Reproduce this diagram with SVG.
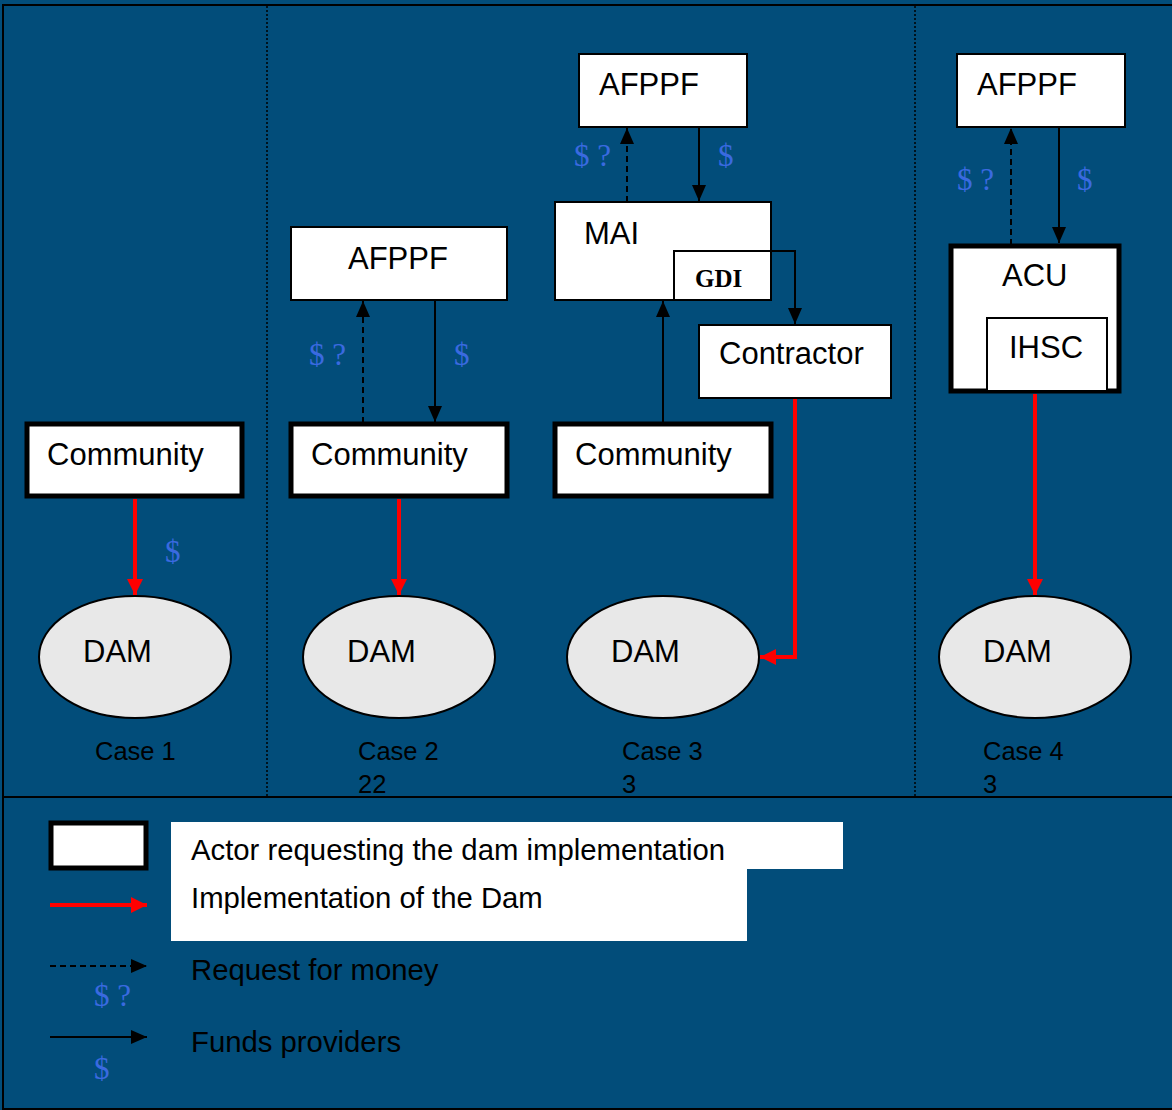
<svg xmlns="http://www.w3.org/2000/svg" width="1172" height="1110" viewBox="0 0 1172 1110">
<defs>
<style>
.bg{fill:#024d7a}
.box{fill:#fff;stroke:#000;stroke-width:2}
.tbox{fill:#fff;stroke:#000;stroke-width:5}
.dam{fill:#e8e8e8;stroke:#000;stroke-width:2}
.t{font-family:"Liberation Sans",Arial,sans-serif;font-size:31px;fill:#000}
.case{font-family:"Liberation Sans",Arial,sans-serif;font-size:25.5px;fill:#000}
.leg{font-family:"Liberation Sans",Arial,sans-serif;font-size:29.3px;fill:#000}
.money{font-family:"Liberation Serif","Times New Roman",serif;font-size:31px;fill:#3a6ae0}
.gdi{font-family:"Liberation Serif","Times New Roman",serif;font-size:25px;font-weight:bold;fill:#000}
.solid{stroke:#000;stroke-width:2;fill:none}
.dash{stroke:#000;stroke-width:2;fill:none;stroke-dasharray:6 4}
.red{stroke:#ff0000;stroke-width:4;fill:none}
.sep{stroke:#000;stroke-width:1.5;stroke-dasharray:2 2;fill:none}
</style>
<marker id="ab" viewBox="0 0 16 14" refX="16" refY="7" markerWidth="16" markerHeight="14" markerUnits="userSpaceOnUse" orient="auto">
<path d="M0,0 L16,7 L0,14 z" fill="#000"/>
</marker>
<marker id="ar" viewBox="0 0 16 16" refX="16" refY="8" markerWidth="16" markerHeight="16" markerUnits="userSpaceOnUse" orient="auto">
<path d="M0,0 L16,8 L0,16 z" fill="#ff0000"/>
</marker>
</defs>
<rect class="bg" x="0" y="0" width="1172" height="1110"/>
<rect x="3" y="5" width="1172" height="1104" fill="none" stroke="#000" stroke-width="2"/>
<line x1="3" y1="797" x2="1172" y2="797" stroke="#000" stroke-width="2"/>
<line class="sep" x1="267" y1="6" x2="267" y2="796"/>
<line class="sep" x1="915" y1="6" x2="915" y2="796"/>

<g id="connectors">
<line class="red" x1="135" y1="499" x2="135" y2="595" marker-end="url(#ar)"/>
<line class="dash" x1="363" y1="423" x2="363" y2="301" marker-end="url(#ab)"/>
<line class="solid" x1="435" y1="300" x2="435" y2="422" marker-end="url(#ab)"/>
<line class="red" x1="399" y1="499" x2="399" y2="595" marker-end="url(#ar)"/>
<line class="dash" x1="627" y1="202" x2="627" y2="128" marker-end="url(#ab)"/>
<line class="solid" x1="699" y1="127" x2="699" y2="201" marker-end="url(#ab)"/>
<path class="solid" d="M771,251 H795 V324" marker-end="url(#ab)"/>
<line class="solid" x1="663" y1="423" x2="663" y2="301" marker-end="url(#ab)"/>
<path class="red" d="M795,399 V657 H760" marker-end="url(#ar)"/>
<line class="dash" x1="1011" y1="245" x2="1011" y2="128" marker-end="url(#ab)"/>
<line class="solid" x1="1059" y1="127" x2="1059" y2="243" marker-end="url(#ab)"/>
<line class="red" x1="1035" y1="394" x2="1035" y2="595" marker-end="url(#ar)"/>
<text class="money" x="165" y="562">$</text>
<text class="money" x="309" y="365">$ ?</text>
<text class="money" x="454" y="365">$</text>
<text class="money" x="574" y="166">$ ?</text>
<text class="money" x="718" y="166">$</text>
<text class="money" x="957" y="190">$ ?</text>
<text class="money" x="1077" y="190">$</text>
</g>

<g id="case1-community"><rect class="tbox" x="27" y="424" width="215" height="72"/><text class="t" x="47" y="465">Community</text></g>
<g id="case1-dam"><ellipse class="dam" cx="135" cy="657" rx="96" ry="61"/><text class="t" x="83" y="662">DAM</text></g>
<g id="case1-label"><text class="case" x="95" y="760">Case 1</text></g>

<g id="case2-afppf"><rect class="box" x="291" y="227" width="216" height="73"/><text class="t" x="348" y="269">AFPPF</text></g>
<g id="case2-community"><rect class="tbox" x="291" y="424" width="216" height="72"/><text class="t" x="311" y="465">Community</text></g>
<g id="case2-dam"><ellipse class="dam" cx="399" cy="657" rx="96" ry="61"/><text class="t" x="347" y="662">DAM</text></g>
<g id="case2-label"><text class="case" x="358" y="760">Case 2</text><text class="case" x="358" y="793">22</text></g>

<g id="case3-afppf"><rect class="box" x="579" y="54" width="168" height="73"/><text class="t" x="599" y="95">AFPPF</text></g>
<g id="case3-mai"><rect class="box" x="555" y="202" width="216" height="98"/><text class="t" x="584" y="244">MAI</text></g>
<g id="case3-gdi"><rect class="box" x="674" y="251" width="97" height="49"/><text class="gdi" x="695" y="287">GDI</text></g>
<g id="case3-contractor"><rect class="box" x="699" y="325" width="192" height="73"/><text class="t" x="719" y="364">Contractor</text></g>
<g id="case3-community"><rect class="tbox" x="555" y="424" width="216" height="72"/><text class="t" x="575" y="465">Community</text></g>
<g id="case3-dam"><ellipse class="dam" cx="663" cy="657" rx="96" ry="61"/><text class="t" x="611" y="662">DAM</text></g>
<g id="case3-label"><text class="case" x="622" y="760">Case 3</text><text class="case" x="622" y="793">3</text></g>

<g id="case4-afppf"><rect class="box" x="957" y="54" width="168" height="73"/><text class="t" x="977" y="95">AFPPF</text></g>
<g id="case4-acu"><rect class="tbox" x="951" y="246" width="168" height="145"/><text class="t" x="1002" y="286">ACU</text></g>
<g id="case4-ihsc"><rect class="box" x="987" y="318" width="120" height="73"/><text class="t" x="1009" y="358">IHSC</text></g>
<g id="case4-dam"><ellipse class="dam" cx="1035" cy="657" rx="96" ry="61"/><text class="t" x="983" y="662">DAM</text></g>
<g id="case4-label"><text class="case" x="983" y="760">Case 4</text><text class="case" x="983" y="793">3</text></g>

<g id="legend">
<path d="M171,822 H843 V869 H747 V941 H171 Z" fill="#fff"/>
<rect class="tbox" x="51" y="823" width="95" height="45"/>
<text class="leg" x="191" y="860">Actor requesting the dam implementation</text>
<line class="red" x1="50" y1="905" x2="147" y2="905" marker-end="url(#ar)"/>
<text class="leg" x="191" y="908">Implementation of the Dam</text>
<line class="dash" x1="50" y1="966" x2="147" y2="966" marker-end="url(#ab)"/>
<text class="money" x="94" y="1006">$ ?</text>
<text class="leg" x="191" y="980">Request for money</text>
<line class="solid" x1="50" y1="1037" x2="147" y2="1037" marker-end="url(#ab)"/>
<text class="money" x="94" y="1079">$</text>
<text class="leg" x="191" y="1052">Funds providers</text>
</g>
</svg>
